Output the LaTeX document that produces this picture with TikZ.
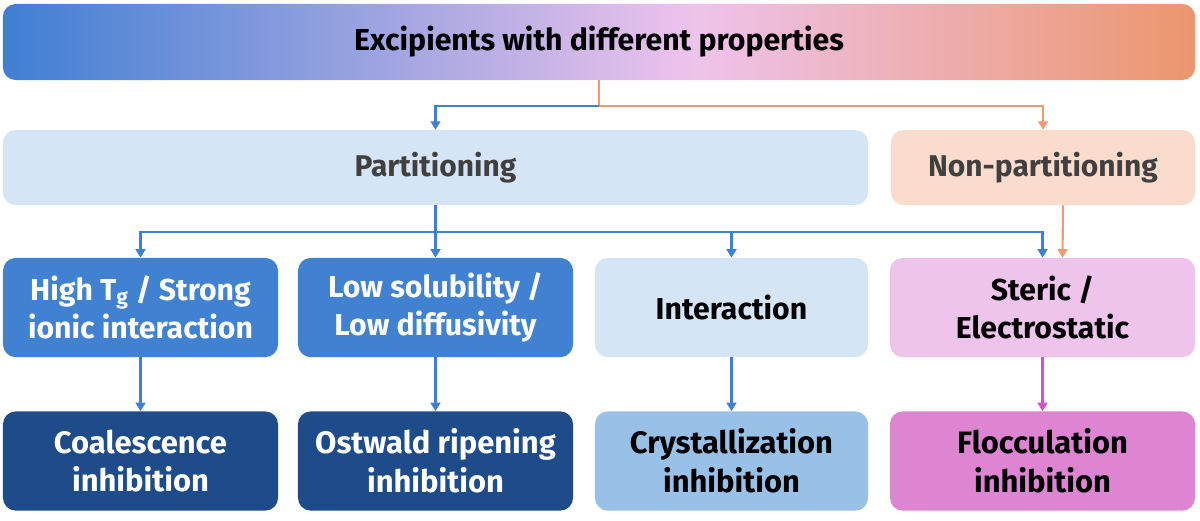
\documentclass[tikz,border=0pt]{standalone}
\usepackage{fontspec}
\setmainfont{Fira Sans}
\usepackage{xcolor}
\usepackage{tikz}
\usetikzlibrary{arrows.meta,calc}
\definecolor{BlueBar}{RGB}{63,127,211}
\definecolor{PinkBar}{RGB}{238,195,236}
\definecolor{OrangeBar}{RGB}{236,150,109}
\definecolor{PaleBlue}{RGB}{213,229,245}
\definecolor{PalePeach}{RGB}{250,220,204}
\definecolor{MidBlue}{RGB}{65,129,210}
\definecolor{DeepBlue}{RGB}{30,75,138}
\definecolor{SkyBlue}{RGB}{153,193,232}
\definecolor{Lilac}{RGB}{238,195,236}
\definecolor{Orchid}{RGB}{221,132,210}
\definecolor{LineBlue}{RGB}{63,127,212}
\definecolor{LineOrange}{RGB}{238,155,114}
\definecolor{LineMagenta}{RGB}{212,82,200}
\definecolor{TextGray}{RGB}{64,64,64}
\pgfdeclarehorizontalshading{excipients}{100bp}{color(0bp)=(BlueBar); color(25bp)=(BlueBar);
  color(54bp)=(PinkBar); color(75bp)=(OrangeBar); color(100bp)=(OrangeBar)}

\begin{document}
\begin{tikzpicture}[x=0.025cm, y=-0.025cm, >={Triangle[width=7pt,length=6pt]},
    box/.style={rounded corners=0.32cm, inner sep=0pt, align=center,
        font=\bfseries\fontsize{21.3}{27.5}\selectfont},
    row/.style={box, minimum height=2.48cm, font=\bfseries\fontsize{21.5}{27.5}\selectfont},
    goal/.style={row, font=\bfseries\fontsize{22}{27.5}\selectfont},
    link/.style={->, line width=1.5pt}]
    \useasboundingbox (0,0) rectangle (1200,520);

    \node[box, shading=excipients, minimum width=29.8cm, minimum height=1.9cm,
        font=\bfseries\fontsize{21.5}{24}\selectfont] (exc) at (599,42)
        {Excipients with different properties};

    \node[box, fill=PaleBlue, text=TextGray, minimum width=21.625cm, minimum height=1.875cm]
        (part) at (435.5,167.5) {Partitioning};
    \node[box, fill=PalePeach, text=TextGray, minimum width=7.6cm, minimum height=1.875cm]
        (nonpart) at (1043,167.5) {Non-partitioning};

    \node[row, fill=MidBlue, text=white, minimum width=6.875cm] (high) at (140.5,307.5)
        {High T\textsubscript{g} / Strong\\ionic interaction};
    \node[row, fill=MidBlue, text=white, minimum width=6.875cm] (low) at (435.5,307.5)
        {Low solubility /\\Low diffusivity};
    \node[row, fill=PaleBlue, minimum width=6.825cm] (inter) at (731.5,307.5) {Interaction};
    \node[row, fill=Lilac, minimum width=7.625cm] (steric) at (1042.5,307.5)
        {Steric /\\Electrostatic};

    \node[goal, fill=DeepBlue, text=white, minimum width=6.875cm] (coal) at (140.5,461)
        {Coalescence\\inhibition};
    \node[goal, fill=DeepBlue, text=white, minimum width=6.875cm] (ost) at (435.5,461)
        {Ostwald ripening\\inhibition};
    \node[goal, fill=SkyBlue, minimum width=6.825cm] (cryst) at (731.5,461)
        {Crystallization\\inhibition};
    \node[goal, fill=Orchid, minimum width=7.625cm] (floc) at (1042.5,461)
        {Flocculation\\inhibition};

    % top split
    \coordinate (split) at (599,106);
    \draw[link, LineOrange] (exc.south) -- (split) -| (nonpart.north);
    \draw[link, LineBlue] (split) -| (part.north);

    % partitioning bus
    \coordinate (bus) at (435.5,232);
    \draw[line width=1.5pt, LineBlue] (part.south) -- (bus);
    \foreach \n in {high,low,inter,steric}
        \draw[link, LineBlue] (bus) -| (\n.north);
    \draw[link, LineOrange] ([xshift=0.5cm]nonpart.south) -- ([xshift=0.5cm]steric.north);

    \foreach \a/\b in {high/coal,low/ost,inter/cryst}
        \draw[link, LineBlue] (\a) -- (\b);
    \draw[link, LineMagenta] (steric) -- (floc);
\end{tikzpicture}
\end{document}
